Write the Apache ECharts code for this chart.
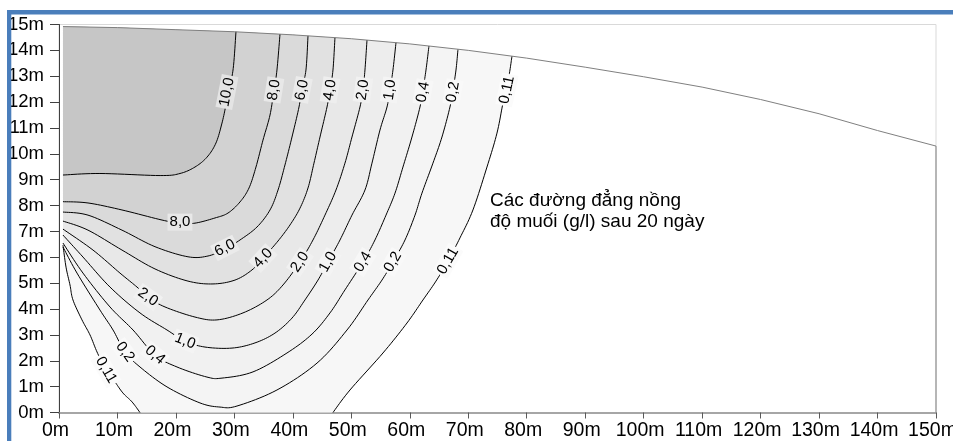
<!DOCTYPE html>
<html>
<head>
<meta charset="utf-8">
<title>Đường đẳng nồng độ muối</title>
<script src="https://cdn.jsdelivr.net/npm/echarts@6/dist/echarts.min.js"></script>
<style>
    html, body { margin: 0; padding: 0; background: #fff; }
    #chart { width: 953px; height: 441px; }
</style>
</head>
<body>
<div id="chart"></div>
<script>
// mặt đất / mặt nước phía trên (x m, y m)
var surface = [[0.68, 14.92], [10, 14.88], [20, 14.8], [30, 14.72], [40, 14.6], [50, 14.45], [60, 14.25], [70, 14.0],
    [80, 13.7], [90, 13.35], [100, 12.98], [110, 12.58], [120, 12.1], [130, 11.55], [140, 10.9], [150, 10.3]];

// các đường đẳng nồng, từ mép trái lên tới mặt trên
var c10 = [[0.68, 9.18], [7.0, 9.24], [17.3, 9.16], [20.7, 9.24], [23.26, 9.49], [25.31, 9.87], [26.85, 10.42],
    [27.88, 11.19], [28.56, 11.89], [29.1, 12.5], [29.8, 13.3], [30.27, 14.72]];
var c8 = [[0.68, 8.15], [4.96, 8.1], [10.77, 7.83], [17.62, 7.44], [20.69, 7.32], [23.26, 7.32], [26.68, 7.52],
    [28.9, 7.71], [30.96, 8.14], [32.5, 8.68], [33.69, 9.49], [34.89, 10.53], [36.09, 11.5], [36.77, 12.47],
    [37.28, 13.24], [37.8, 14.63]];
var c6 = [[0.68, 7.75], [4.96, 7.63], [10.77, 7.05], [16.42, 6.41], [22.06, 6.02], [25.48, 6.05], [28.39, 6.32],
    [30.96, 6.67], [33.86, 7.17], [36.09, 7.83], [37.46, 8.6], [38.65, 9.57], [39.85, 10.65], [41.05, 11.81],
    [41.56, 12.54], [42.24, 13.24], [42.59, 14.56]];
var c4 = [[0.68, 7.4], [4.96, 7.05], [10.77, 6.28], [16.42, 5.55], [22.06, 5.08], [26.34, 4.97], [30.1, 5.12],
    [33.0, 5.51], [35.06, 6.01], [37.46, 6.63], [39.51, 7.25], [41.22, 7.9], [42.59, 8.68], [43.61, 9.64],
    [44.64, 10.65], [45.84, 11.81], [46.35, 12.47], [46.86, 13.24], [47.2, 14.49]];
var c2 = [[0.68, 7.09], [5.81, 6.28], [10.43, 5.39], [13.34, 4.85], [15.22, 4.46], [18.13, 4.08], [23.26, 3.69],
    [27.02, 3.58], [31.47, 3.85], [35.57, 4.35], [38.31, 4.93], [41.22, 5.82], [43.44, 6.67], [45.49, 7.63],
    [47.37, 8.6], [48.91, 9.64], [50.11, 10.65], [51.48, 11.81], [51.99, 12.47], [52.33, 13.24], [52.68, 14.4]];
var c1 = [[0.68, 6.86], [4.1, 6.01], [8.72, 4.85], [13.85, 3.85], [18.47, 3.19], [21.55, 2.76], [24.97, 2.53],
    [29.59, 2.49], [33.52, 2.69], [36.94, 3.07], [39.85, 3.65], [42.07, 4.35], [44.3, 5.12], [46.01, 5.82],
    [48.06, 6.67], [50.11, 7.63], [52.33, 8.6], [53.53, 9.64], [54.9, 10.92], [56.1, 11.81], [56.61, 12.47],
    [57.12, 13.24], [57.64, 14.3]];
var c04 = [[0.68, 6.55], [4.1, 5.39], [8.72, 4.08], [12.66, 3.19], [16.42, 2.22], [20.18, 1.76], [25.31, 1.37],
    [27.88, 1.33], [33.18, 1.57], [38.99, 2.3], [43.27, 3.03], [46.35, 3.85], [48.91, 4.74], [51.99, 5.82],
    [54.04, 6.67], [55.93, 7.63], [57.47, 8.48], [58.83, 9.49], [60.37, 10.65], [61.74, 11.81], [62.25, 12.47],
    [62.77, 13.24], [63.28, 14.17]];
var c02 = [[0.68, 6.4], [3.08, 5.39], [7.01, 3.96], [9.24, 3.19], [11.29, 2.34], [13.85, 1.76], [18.47, 0.99],
    [24.11, 0.37], [27.54, 0.21], [30.44, 0.25], [37.28, 0.87], [44.13, 1.91], [49.26, 3.19], [52.85, 4.35],
    [55.24, 5.12], [57.12, 5.82], [59.18, 6.67], [60.89, 7.63], [62.08, 8.48], [63.96, 9.64], [65.5, 10.65],
    [66.87, 11.81], [67.38, 12.47], [67.9, 13.24], [68.24, 14.04]];
// 0,11 có hai nhánh: nhánh trái (mép trái xuống đáy) và nhánh phải (đáy lên mặt trên)
var c011Left = [[0.68, 6.47], [1.2, 5.62], [1.88, 4.93], [2.39, 4.35], [3.93, 3.58], [5.3, 3.0], [6.5, 2.34],
    [7.87, 1.72], [9.58, 1.18], [10.95, 0.75], [12.49, 0.41], [13.85, 0]];
var c011Right = [[46.86, 0], [49.77, 0.87], [55.41, 2.3], [59.52, 3.46], [62.25, 4.35], [64.48, 5.08], [66.53, 5.86],
    [68.58, 6.75], [70.8, 7.83], [73.2, 9.49], [74.91, 10.8], [75.94, 11.96], [76.62, 12.54], [77.13, 13.24], [77.48, 13.78]];

// nhãn đường đẳng nồng: [x, y, chữ] và góc nghiêng (độ)
var contourLabels = [
    [28.73, 12.39, '10,0'], [36.77, 12.47, '8,0'], [41.56, 12.47, '6,0'], [46.35, 12.47, '4,0'], [51.99, 12.47, '2,0'],
    [56.61, 12.47, '1,0'], [62.25, 12.39, '0,4'], [67.38, 12.39, '0,2'], [76.62, 12.47, '0,11'],
    [20.69, 7.36, '8,0'], [28.39, 6.36, '6,0'], [34.9, 5.97, '4,0'], [41.22, 5.82, '2,0'], [46.01, 5.82, '1,0'],
    [51.99, 5.82, '0,4'], [57.12, 5.82, '0,2'], [66.53, 5.86, '0,11'],
    [15.22, 4.46, '2,0'], [21.55, 2.76, '1,0'], [16.42, 2.22, '0,4'], [11.29, 2.34, '0,2'], [8.04, 1.64, '0,11']
];
var labelAngles = [79, 81, 79, 81, 82, 82, 80, 80, 78,
    0, 27, 47, 56, 61, 59, 60, 60,
    -35, -22, -40, -54, -60];

var font = 'Liberation Sans, Arial, sans-serif';
var fillColors = ['#f7f7f7', '#f4f4f4', '#f1f1f1', '#ededed', '#e8e8e8', '#e1e1e1', '#dadada', '#d2d2d2', '#c6c6c6'];
var labelBg = { '0,11': '#fbfbfb', '0,2': '#f9f9f9', '0,4': '#f7f7f7', '1,0': '#f4f4f4', '2,0': '#f1f1f1',
    '4,0': '#eeeeee', '6,0': '#ebebeb', '8,0': '#e8e8e8', '10,0': '#e4e4e4' };

var contourLines = [c011Left, c011Right, c02, c04, c1, c2, c4, c6, c8, c10];
var regionLines = [null, c02, c04, c1, c2, c4, c6, c8, c10];

// làm mượt đường trên màn hình (Catmull-Rom), chỉ để vẽ
function smoothPx(pts) {
    var out = [pts[0]];
    for (var i = 0; i < pts.length - 1; i++) {
        var p0 = pts[Math.max(i - 1, 0)], p1 = pts[i], p2 = pts[i + 1], p3 = pts[Math.min(i + 2, pts.length - 1)];
        for (var s = 1; s <= 10; s++) {
            var t = s / 10, t2 = t * t, t3 = t2 * t;
            out.push([0, 1].map(function (k) {
                return 0.5 * (2 * p1[k] + (-p0[k] + p2[k]) * t + (2 * p0[k] - 5 * p1[k] + 4 * p2[k] - p3[k]) * t2 +
                    (-p0[k] + 3 * p1[k] - 3 * p2[k] + p3[k]) * t3);
            }));
        }
    }
    return out;
}

function regionPx(i, api) {
    var toPx = function (p) { return api.coord(p); };
    if (i === 0) {
        var topX = c011Right[c011Right.length - 1][0];
        return smoothPx(c011Left.map(toPx)).reverse()
            .concat(surface.filter(function (p) { return p[0] < topX; }).map(toPx))
            .concat(smoothPx(c011Right.map(toPx)).reverse());
    }
    var line = regionLines[i];
    var lineTop = line[line.length - 1][0];
    var cap = surface.filter(function (p) { return p[0] < lineTop; }).reverse();
    return smoothPx(line.map(toPx)).concat(cap.map(toPx));
}

var series = [{
    type: 'custom',
    coordinateSystem: 'cartesian2d',
    silent: true,
    z: 1,
    data: regionLines.map(function (l, i) { return [i, 1]; }),
    encode: { x: 0, y: 1 },
    renderItem: function (params, api) {
        return {
            type: 'polygon',
            shape: { points: regionPx(params.dataIndex, api) },
            style: { fill: fillColors[params.dataIndex], stroke: null }
        };
    }
}, {
    type: 'custom',
    coordinateSystem: 'cartesian2d',
    silent: true,
    z: 3,
    data: contourLines.map(function (l) { return l[0]; }),
    encode: { x: 0, y: 1 },
    renderItem: function (params, api) {
        var pts = smoothPx(contourLines[params.dataIndex].map(function (p) { return api.coord(p); }));
        return { type: 'polyline', shape: { points: pts }, style: { fill: null, stroke: '#000', lineWidth: 1 } };
    }
}, {
    type: 'line',
    data: surface.concat([[150, 0]]),
    symbol: 'none',
    silent: true,
    z: 3,
    lineStyle: { color: '#808080', width: 1 }
}, {
    type: 'custom',
    coordinateSystem: 'cartesian2d',
    silent: true,
    z: 5,
    data: contourLabels.map(function (d) { return [d[0], d[1]]; }),
    encode: { x: 0, y: 1 },
    renderItem: function (params, api) {
        var d = contourLabels[params.dataIndex];
        var p = api.coord([d[0], d[1]]);
        return {
            type: 'text',
            x: p[0],
            y: p[1],
            rotation: labelAngles[params.dataIndex] * Math.PI / 180,
            style: {
                text: d[2],
                fontSize: 15,
                fontFamily: font,
                fill: '#000',
                align: 'center',
                verticalAlign: 'middle',
                backgroundColor: labelBg[d[2]],
                padding: [1, 2]
            }
        };
    }
}];

var option = {
    animation: false,
    backgroundColor: '#fff',
    textStyle: { fontFamily: font },
    grid: {
        left: 59, right: 17, top: 24.5, bottom: 28.5,
        outerBoundsMode: 'none',
        containLabel: false,
        show: true, borderColor: '#d9d9d9', borderWidth: 1
    },
    xAxis: {
        type: 'value',
        min: 0, max: 150, interval: 10,
        axisLine: { show: true, lineStyle: { color: '#a6a6a6', width: 2 } },
        axisTick: { show: true, length: 6, lineStyle: { color: '#595959' } },
        axisLabel: { formatter: '{value}m', fontSize: 19.5, color: '#000', margin: 8, fontFamily: font,
            padding: [0, 7, 0, 0], showMinLabel: true, showMaxLabel: true },
        splitLine: { show: false }
    },
    yAxis: {
        type: 'value',
        min: 0, max: 15, interval: 1,
        axisLine: { show: true, lineStyle: { color: '#404040', width: 1 } },
        axisTick: { show: true, length: 9, lineStyle: { color: '#404040' } },
        axisLabel: { formatter: '{value}m', fontSize: 18.5, color: '#000', margin: 15, fontFamily: font },
        splitLine: { show: false }
    },
    graphic: [
        { type: 'rect', left: 7, top: 10, silent: true, z: 10, shape: { width: 946, height: 4.5 }, style: { fill: '#4a7ebb' } },
        { type: 'rect', left: 7, top: 10, silent: true, z: 10, shape: { width: 4.3, height: 431 }, style: { fill: '#4a7ebb' } },
        {
            type: 'text', left: 490, top: 190, silent: true, z: 10,
            style: { text: 'Các đường đẳng nồng\nđộ muối (g/l) sau 20 ngày', fontSize: 19, lineHeight: 21, fill: '#000', fontFamily: font }
        }
    ],
    series: series
};

var myChart = echarts.init(document.getElementById('chart'));
myChart.setOption(option);
</script>
</body>
</html>
